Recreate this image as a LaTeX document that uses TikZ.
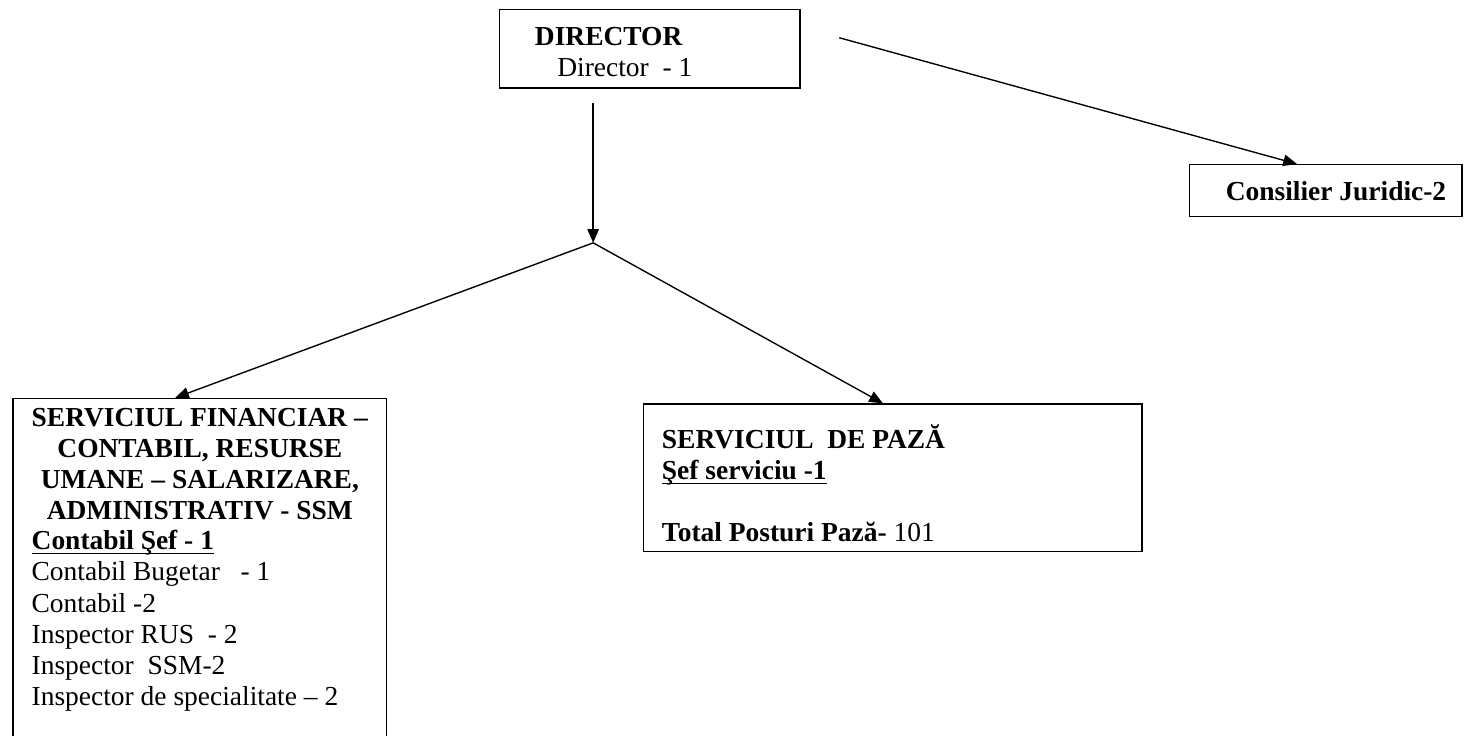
\documentclass[tikz,border=0pt]{standalone}
\usepackage{amsmath}
\usepackage{fontspec}
\setmainfont{Liberation Serif}
\usetikzlibrary{arrows.meta,positioning}

\newcommand{\sublin}[1]{\underline{\smash[b]{#1}}}

\begin{document}
\begin{tikzpicture}[every node/.style={black,font=\fontsize{12}{13.6}\selectfont},
	cutie/.style={draw,line width=0.6pt,inner sep=0pt},
	sageata/.style={line width=0.6pt,-{Triangle[length=6pt,width=5pt]}}]
	\useasboundingbox (0,0) rectangle (22.5,11.3);
	\clip (0,0) rectangle (22.5,11.3);

	% casete
	\node[cutie,minimum width=4.61cm,minimum height=1.2cm] (dir) at (9.98,10.55) {};
	\node[align=center,inner sep=0pt] (dirtxt) at (9.35,10.5) {\textbf{DIRECTOR}\\\hspace*{14pt}Director\ \ - 1};

	\node[cutie,minimum width=4.19cm,minimum height=0.8cm] (jur) at (20.36,8.37) {\hspace*{9pt}\textbf{Consilier Juridic-2}};

	\node[cutie,minimum width=7.66cm,minimum height=2.27cm] (paza) at (13.71,3.96) {};
	\node[align=left,inner sep=0pt,below right=0.32cm and 0.29cm of paza.north west] (pazatxt)
	{\textbf{SERVICIUL\ \ DE PAZĂ}\\\textbf{\sublin{Şef serviciu -1}}\\[13.6pt]\textbf{Total Posturi Pază-} 101};

	\node[cutie,minimum width=5.74cm,minimum height=6cm,anchor=north] (fin) at (3.07,5.19) {};
	\node[align=center,inner sep=0pt,below=0.15cm of fin.north] (fintitlu)
	{\textbf{SERVICIUL FINANCIAR –}\\\textbf{CONTABIL, RESURSE}\\\textbf{UMANE – SALARIZARE,}\\\textbf{ADMINISTRATIV - SSM}};
	\node[align=left,inner sep=0pt,below right=2.03cm and 0.29cm of fin.north west] (finlista)
	{\textbf{\sublin{Contabil Şef - 1}}\\Contabil Bugetar\ \ \ - 1\\Contabil -2\\Inspector RUS\ \ - 2\\Inspector\ \ SSM-2\\Inspector de specialitate – 2};

	% legaturi
	\coordinate (dirjos) at (9.11,9.72);
	\coordinate (ramif) at (9.11,7.57);
	\coordinate (dirdr) at (12.89,10.72);

	\draw[sageata] (dirjos) -- (ramif);
	\draw[sageata] (ramif) -- ([xshift=-0.38cm]fin.north);
	\draw[sageata] (ramif) -- ([xshift=-0.15cm]paza.north);
	\draw[sageata] (dirdr) -- ([xshift=-0.44cm]jur.north);
\end{tikzpicture}
\end{document}
